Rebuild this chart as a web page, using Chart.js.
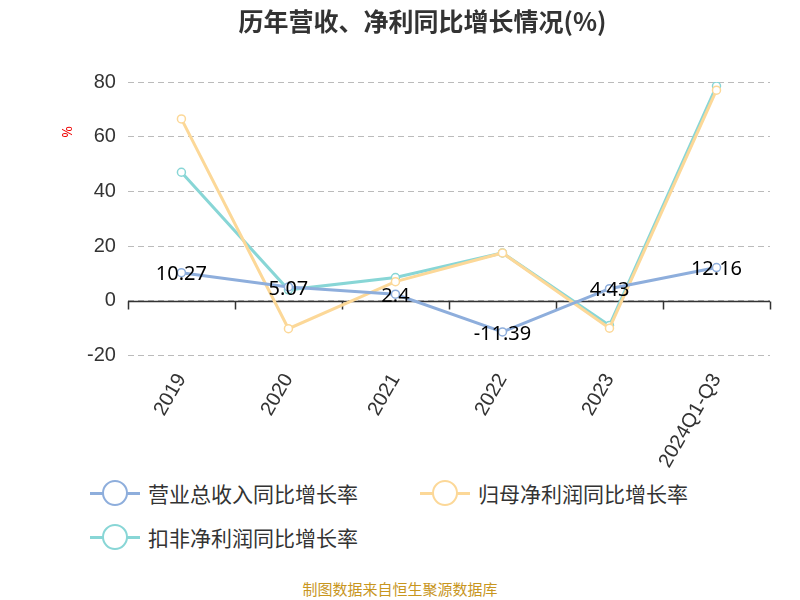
<!DOCTYPE html>
<html><head><meta charset="utf-8">
<script src="https://cdn.jsdelivr.net/npm/chart.js@4.4.0/dist/chart.umd.min.js"></script>
<style>
body{margin:0;width:800px;height:600px;background:#fff;font-family:"Noto Sans CJK SC","Noto Sans",sans-serif;position:relative;overflow:hidden}
#wrap{position:absolute;left:0;top:0;width:800px;height:478px}
.leg{position:absolute;font-size:21px;color:#333;display:flex;align-items:center}
.mk{position:relative;width:50px;height:26px;margin-right:8px}
.mk i{position:absolute;left:0;top:12px;width:50px;height:3px}
.mk b{position:absolute;left:12px;top:0;width:22px;height:22px;border-radius:50%;background:#fff;border:2px solid}
#foot{position:absolute;top:578px;width:800px;text-align:center;font-size:15px;color:#c8961e}
</style></head><body>
<div id="wrap"><canvas id="c"></canvas></div>
<div class="leg" style="left:90px;top:478px"><span class="mk"><i style="background:#8eaedc"></i><b style="border-color:#8eaedc"></b></span>营业总收入同比增长率</div>
<div class="leg" style="left:420px;top:478px"><span class="mk"><i style="background:#fcd898"></i><b style="border-color:#fcd898"></b></span>归母净利润同比增长率</div>
<div class="leg" style="left:90px;top:522px"><span class="mk"><i style="background:#88d6d6"></i><b style="border-color:#88d6d6"></b></span>扣非净利润同比增长率</div>
<div id="foot">制图数据来自恒生聚源数据库</div>
<script>
const categories = ["2019", "2020", "2021", "2022", "2023", "2024Q1-Q3"];
const revenueGrowth = [10.27, 5.07, 2.4, -11.39, 4.43, 12.16];
const netProfitGrowth = [66.5, -10.2, 7, 17.5, -10, 77];
const deductedGrowth = [47, 4, 8.5, 17.5, -9, 78.5];

const labelPlugin = {
    id: "labels",
    beforeDatasetsDraw(chart) {
        const ctx = chart.ctx;
        const x = chart.scales.x, y = chart.scales.y;
        const y0 = Math.round(y.getPixelForValue(0)) + 0.5;
        ctx.save();
        ctx.strokeStyle = "#333";
        ctx.lineWidth = 1.5;
        ctx.beginPath();
        ctx.moveTo(x.left, y0); ctx.lineTo(x.right, y0);
        for (let i = 0; i <= categories.length; i++) {
            const px = Math.round(x.left + (x.right - x.left) * i / categories.length) + 0.5;
            ctx.moveTo(px, y0); ctx.lineTo(px, y0 + 8);
        }
        ctx.stroke();
        ctx.fillStyle = "#e00";
        ctx.font = "14px 'Noto Sans', sans-serif";
        ctx.translate(72, 132);
        ctx.rotate(-Math.PI / 2);
        ctx.textAlign = "center";
        ctx.fillText("%", 0, 0);
        ctx.restore();
    },
    afterDatasetsDraw(chart) {
        const ctx = chart.ctx;
        ctx.save();
        ctx.fillStyle = "#000";
        ctx.font = "20px 'Noto Sans', sans-serif";
        ctx.textAlign = "center";
        ctx.textBaseline = "bottom";
        chart.getDatasetMeta(0).data.forEach((p, i) => {
            ctx.fillText(String(revenueGrowth[i]), p.x, p.y + 12);
        });
        ctx.restore();
    }
};

function ds(label, data, color) {
    return {label, data, borderColor: color, backgroundColor: "#fff", borderWidth: 3,
        pointRadius: 4, pointBorderWidth: 1.5, tension: 0};
}

new Chart(document.getElementById("c"), {
    type: "line",
    data: {
        labels: categories,
        datasets: [
            ds("营业总收入同比增长率", revenueGrowth, "#8eaedc"),
            ds("归母净利润同比增长率", netProfitGrowth, "#fcd898"),
            ds("扣非净利润同比增长率", deductedGrowth, "#88d6d6")
        ]
    },
    options: {
        responsive: true, maintainAspectRatio: false, animation: false,
        layout: {padding: {left: 75, right: 30, top: 0, bottom: 0}},
        plugins: {
            legend: {display: false},
            tooltip: {enabled: false},
            title: {display: true, text: "历年营收、净利同比增长情况(%)", color: "#333",
                font: {size: 25, weight: "bold", family: "'Noto Sans CJK SC'"}, padding: {top: 6, bottom: 46}}
        },
        scales: {
            x: {offset: true, grid: {display: false}, border: {display: false},
                ticks: {color: "#333", font: {size: 20}, maxRotation: 60, minRotation: 60, padding: 6}},
            y: {min: -20, max: 80, border: {display: false, dash: [6, 4]},
                grid: {color: "#bbb", lineWidth: 1, drawTicks: false},
                ticks: {stepSize: 20, color: "#333", font: {size: 20}, padding: 12}}
        }
    },
    plugins: [labelPlugin]
});
</script>
</body></html>
